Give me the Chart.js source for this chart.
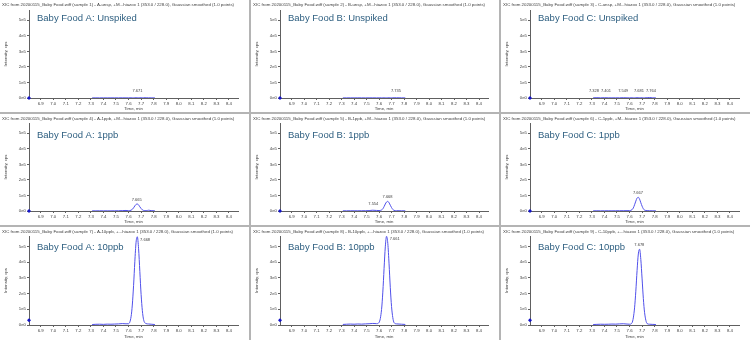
<!DOCTYPE html>
<html>
<head>
<meta charset="utf-8">
<script src="https://cdn.jsdelivr.net/npm/chart.js@4.4.1/dist/chart.umd.min.js"></script>
<style>
  html, body { margin: 0; padding: 0; background: #ffffff; }
  #grid { position: relative; width: 750px; height: 340px; background: #b4b4b4; overflow: hidden; }
  #grid canvas { position: absolute; background: #ffffff; }
</style>
</head>
<body>
<div id="grid"></div>
<script>
// Retention time axis (min) shared by all traces
const timeMin = [7.31, 7.34, 7.37, 7.40, 7.43, 7.46, 7.49, 7.52, 7.55, 7.58, 7.60, 7.62, 7.63,
  7.64, 7.65, 7.66, 7.67, 7.68, 7.69, 7.70, 7.71, 7.72, 7.74, 7.76, 7.78, 7.81];

// Intensity (cps) for each sample
const aUnspiked = [800, 900, 700, 1000, 800, 900, 1100, 900, 1200, 1000, 1100, 1300, 1200,
  1400, 1500, 1600, 1900, 1700, 1500, 1400, 1600, 1800, 1500, 1200, 1000, 800];
const bUnspiked = [700, 800, 900, 800, 1000, 900, 800, 1000, 1100, 900, 1000, 1100, 1200,
  1100, 1200, 1300, 1200, 1300, 1200, 1300, 1400, 1500, 1600, 1300, 1000, 700];
const cUnspiked = [1200, 2000, 1000, 1900, 1100, 1000, 1200, 1100, 1900, 1200, 1100, 1300, 1200,
  1400, 1500, 1900, 2400, 1800, 1400, 1300, 1200, 1300, 1800, 3300, 1200, 900];
const a1ppb = [1200, 1000, 1300, 1100, 1200, 1000, 1400, 1600, 2500, 3500, 2000, 5000, 10500,
  20500, 32500, 42500, 45000, 39000, 27000, 16000, 7500, 3500, 2000, 5000, 2500, 1200];
const b1ppb = [1300, 1200, 1500, 1300, 1400, 1600, 1800, 2500, 5000, 3500, 3000, 6500, 14000,
  28000, 45000, 58000, 62000, 53000, 37000, 22000, 10000, 4000, 2000, 1800, 1500, 1200];
const c1ppb = [1200, 1400, 1100, 1300, 1500, 1200, 1600, 1800, 2000, 2200, 2500, 8500, 19500,
  40000, 63500, 83000, 88000, 76000, 53000, 31000, 14000, 5500, 2500, 1800, 1500, 1200];
const a10ppb = [3000, 4500, 5000, 4000, 5500, 5000, 6000, 7000, 9000, 7500, 8000, 52000, 127000,
  250000, 402000, 526000, 561000, 485000, 341000, 195000, 91000, 34000, 9000, 6500, 5000, 3000];
const b10ppb = [3500, 5000, 6000, 5000, 6500, 5500, 7000, 8000, 10000, 8500, 16000, 99000, 209000,
  358000, 497000, 564000, 519000, 389000, 237000, 117000, 47000, 15000, 7000, 6000, 5000, 3500];
const c10ppb = [3000, 4000, 5000, 4500, 5000, 6000, 5500, 7000, 8000, 6000, 5000, 14000, 45000,
  109000, 215000, 346000, 452000, 482000, 416000, 293000, 168000, 78000, 9000, 5000, 4000, 3000];

// Labelled peaks (retention time, apex intensity)
const peakTimes = [[7.671], [7.735], [7.328, 7.401, 7.549, 7.681, 7.764],
  [7.665], [7.554, 7.668], [7.667],
  [7.668], [7.661], [7.678]];
const peakHeights = [[1900], [1500], [2000, 1900, 1900, 2400, 3300],
  [45000], [5000, 62000], [88000],
  [561000], [564000], [482000]];

// Reference marker level at the left edge
const markerLevel = [0, 0, 0, 0, 0, 0, 30000, 30000, 30000];

const panelTitles = ['Baby Food A: Unspiked', 'Baby Food B: Unspiked', 'Baby Food C: Unspiked',
  'Baby Food A: 1ppb', 'Baby Food B: 1ppb', 'Baby Food C: 1ppb',
  'Baby Food A: 10ppb', 'Baby Food B: 10ppb', 'Baby Food C: 10ppb'];
const sampleNames = ['A-unsp, +M', 'B-unsp, +M', 'C-unsp, +M', 'A-1ppb, +M', 'B-1ppb, +M',
  'C-1ppb, +M', 'A-10ppb, +', 'B-10ppb, +', 'C-10ppb, +'];

const xTickValues = [6.9, 7.0, 7.1, 7.2, 7.3, 7.4, 7.5, 7.6, 7.7, 7.8, 7.9, 8.0, 8.1, 8.2, 8.3, 8.4];
const yTickValues = [0, 100000, 200000, 300000, 400000, 500000];
const yTickLabels = ['0e0', '1e5', '2e5', '3e5', '4e5', '5e5'];

const seriesList = [aUnspiked, bUnspiked, cUnspiked, a1ppb, b1ppb, c1ppb, a10ppb, b10ppb, c10ppb];

// Panel geometry
const colX = [0, 251, 501];
const colW = [249, 248, 249];
const rowY = [0, 114, 227];
const rowH = [112, 111, 113];
const rowTopPad = [10, 9, 9];
const rowXAxisH = [14, 14, 15];
const rowTitleOffset = [8, 12, 11];

const X_MIN = 6.807;
const X_MAX = 8.472;
const Y_MAX = 566000;
const FONT = '"Liberation Sans", Arial, sans-serif';
const TEXT = '#404040';
const AXIS = '#606060';

// Header, in-plot title and peak labels
const panelTextPlugin = {
  id: 'panelText',
  afterDraw(chart, args, opts) {
    const { ctx, chartArea, scales } = chart;
    ctx.save();
    ctx.textBaseline = 'middle';
    ctx.textAlign = 'left';
    ctx.fillStyle = TEXT;
    ctx.font = '4.4px ' + FONT;
    ctx.fillText(opts.header, 2, 4.5);

    ctx.font = '9.5px ' + FONT;
    ctx.fillStyle = '#2e5f80';
    ctx.fillText(opts.title, chartArea.left + 8, chartArea.top + opts.titleOffset);

    // peak labels, spread apart when they would overlap
    ctx.font = '4px ' + FONT;
    ctx.fillStyle = TEXT;
    const above = [];
    opts.times.forEach((t, i) => {
      const px = scales.x.getPixelForValue(t);
      const py = scales.y.getPixelForValue(opts.heights[i]);
      const text = t.toFixed(3);
      if (py - 7 < chartArea.top) {
        ctx.textAlign = 'left';
        ctx.fillText(text, px + 3, py + 3);
      } else {
        above.push({ cx: px, y: Math.min(py - 4, chartArea.bottom - 7), text, w: ctx.measureText(text).width });
      }
    });
    for (let pass = 0; pass < 30; pass++) {
      for (let i = 1; i < above.length; i++) {
        const a = above[i - 1], b = above[i];
        if (Math.abs(a.y - b.y) > 4) continue;
        const need = (a.w + b.w) / 2 + 2;
        const gap = b.cx - a.cx;
        if (gap < need) {
          const d = (need - gap) / 2;
          a.cx -= d;
          b.cx += d;
        }
      }
    }
    ctx.textAlign = 'center';
    above.forEach(l => ctx.fillText(l.text, l.cx, l.y));
    ctx.restore();
  }
};

function makePanel(index) {
  const row = Math.floor(index / 3);
  const col = index % 3;
  const canvas = document.createElement('canvas');
  canvas.width = colW[col];
  canvas.height = rowH[row];
  canvas.style.left = colX[col] + 'px';
  canvas.style.top = rowY[row] + 'px';
  document.getElementById('grid').appendChild(canvas);

  const header = 'XIC from 20200115_Baby Food.wiff (sample ' + (index + 1) + ') - ' +
    sampleNames[index] + '...hiazox 1 (353.0 / 228.0), Gaussian smoothed (1.0 points)';

  new Chart(canvas, {
    type: 'line',
    data: {
      datasets: [
        {
          data: timeMin.map((t, i) => ({ x: t, y: seriesList[index][i] })),
          borderColor: '#5050ea',
          borderWidth: 1,
          pointRadius: 0,
          cubicInterpolationMode: 'monotone'
        },
        {
          data: [{ x: X_MIN, y: markerLevel[index] }],
          showLine: false,
          pointStyle: 'rectRot',
          pointRadius: 2,
          backgroundColor: '#1414c8',
          borderColor: '#1414c8',
          borderWidth: 0,
          clip: false
        }
      ]
    },
    options: {
      responsive: false,
      animation: false,
      layout: { padding: { top: rowTopPad[row], right: 11, left: 0, bottom: 0 } },
      plugins: {
        legend: { display: false },
        tooltip: { enabled: false },
        panelText: {
          header: header,
          title: panelTitles[index],
          titleOffset: rowTitleOffset[row],
          times: peakTimes[index],
          heights: peakHeights[index]
        }
      },
      scales: {
        x: {
          type: 'linear',
          min: X_MIN,
          max: X_MAX,
          afterBuildTicks: s => { s.ticks = xTickValues.map(v => ({ value: v })); },
          afterFit: s => { s.height = rowXAxisH[row]; },
          ticks: {
            callback: v => Number(v).toFixed(1),
            font: { size: 4.3, family: FONT },
            color: TEXT,
            padding: 1,
            maxRotation: 0,
            autoSkip: false
          },
          grid: { drawOnChartArea: false, tickLength: 2, color: AXIS },
          border: { color: AXIS },
          title: {
            display: true,
            text: 'Time, min',
            font: { size: 4.3, family: FONT },
            color: TEXT,
            padding: { top: 0, bottom: 1 }
          }
        },
        y: {
          min: 0,
          max: Y_MAX,
          afterBuildTicks: s => { s.ticks = yTickValues.map(v => ({ value: v })); },
          afterFit: s => { s.width = 29; },
          ticks: {
            callback: v => yTickLabels[yTickValues.indexOf(v)],
            font: { size: 4.3, family: FONT },
            color: TEXT,
            padding: 1
          },
          grid: { drawOnChartArea: false, tickLength: 2, color: AXIS },
          border: { color: AXIS },
          title: {
            display: true,
            text: 'Intensity, cps',
            font: { size: 4.3, family: FONT },
            color: TEXT,
            padding: { top: 3, bottom: 0 }
          }
        }
      }
    },
    plugins: [panelTextPlugin]
  });
}

for (let i = 0; i < 9; i++) makePanel(i);
</script>
</body>
</html>
